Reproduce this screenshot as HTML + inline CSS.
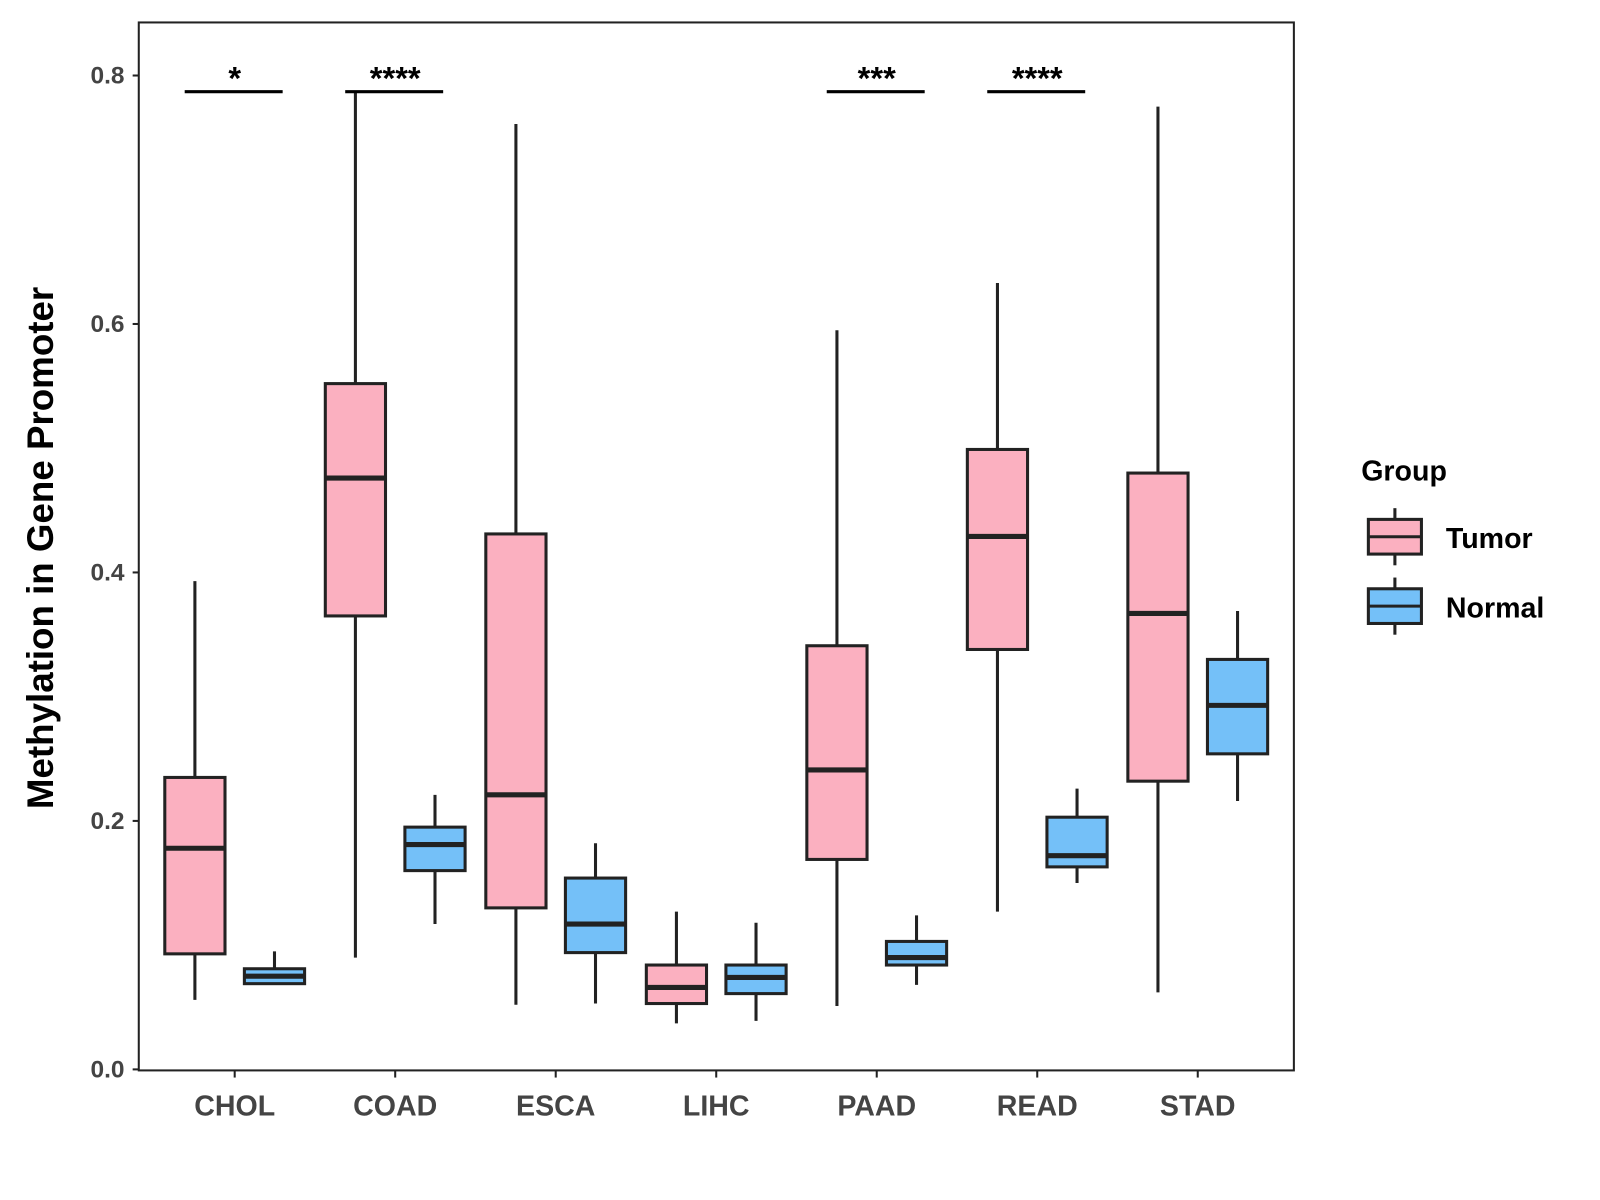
<!DOCTYPE html>
<html><head><meta charset="utf-8"><style>body{margin:0;background:#fff}svg{display:block;font-family:"Liberation Sans",Arial,sans-serif}</style></head>
<body>
<svg id="chart" width="1600" height="1200" viewBox="0 0 1568 1176">
<rect x="136" y="22" width="1132" height="1027" fill="#fff" stroke="#222" stroke-width="2"/>
<g id="marks"></g>
<text transform="translate(52,537) rotate(-90)" text-anchor="middle" font-size="36" font-weight="bold" fill="#000">Methylation in Gene Promoter</text>
<g>
<text x="1334" y="471" font-size="28" font-weight="bold">Group</text>
<g>
<line x1="1367" y1="498" x2="1367" y2="554" stroke="#222" stroke-width="3"/>
<rect x="1341" y="509" width="52" height="34" fill="#fbb0c0" stroke="#222" stroke-width="3"/>
<line x1="1341" y1="526" x2="1393" y2="526" stroke="#222" stroke-width="3"/>
<text x="1417" y="537" font-size="28" font-weight="bold">Tumor</text></g>
<g>
<line x1="1367" y1="566" x2="1367" y2="622" stroke="#222" stroke-width="3"/>
<rect x="1341" y="577" width="52" height="34" fill="#74c0f8" stroke="#222" stroke-width="3"/>
<line x1="1341" y1="594" x2="1393" y2="594" stroke="#222" stroke-width="3"/>
<text x="1417" y="605" font-size="28" font-weight="bold">Normal</text></g>
</g>
</svg>
<script>
const categories=["CHOL","COAD","ESCA","LIHC","PAAD","READ","STAD"];
// [low, q1, median, q3, high]
const tumorStats=[[0.056,0.093,0.178,0.235,0.393],[0.090,0.365,0.476,0.552,0.787],[0.052,0.130,0.221,0.431,0.761],[0.037,0.053,0.066,0.084,0.127],[0.051,0.169,0.241,0.341,0.595],[0.127,0.338,0.429,0.499,0.633],[0.062,0.232,0.367,0.480,0.775]];
const normalStats=[[0.069,0.069,0.075,0.081,0.095],[0.117,0.160,0.181,0.195,0.221],[0.053,0.094,0.117,0.154,0.182],[0.039,0.061,0.074,0.084,0.118],[0.068,0.084,0.090,0.103,0.124],[0.150,0.163,0.172,0.203,0.226],[0.216,0.254,0.293,0.330,0.369]];
const sigLabels=["*","****","","","***","****",""];
const sigLevel=0.787;
const yTicks=[0,0.2,0.4,0.6,0.8];
const tickLabels=["0.0","0.2","0.4","0.6","0.8"];
const NS="http://www.w3.org/2000/svg";
const g=document.getElementById('marks');
function y(v){return 1048-v*1217.5;}
function x(i){return 230+i*157.3;}
function mk(t,a,p){const e=document.createElementNS(NS,t);for(const k in a)e.setAttribute(k,a[k]);(p||g).appendChild(e);return e;}
yTicks.forEach((t,i)=>{
 const l=mk('line',{x1:130,x2:136,y1:y(t),y2:y(t),stroke:'#222','stroke-width':2});
 
 
 const tx=mk('text',{x:122,y:y(t)+8,'text-anchor':'end','font-size':24,'font-weight':'bold',fill:'#444'});
 tx.textContent=tickLabels[i];
 
 
});
categories.forEach((c,i)=>{
 const l=mk('line',{x1:x(i),x2:x(i),y1:1049,y2:1056,stroke:'#222','stroke-width':2});
 
 
 const tx=mk('text',{x:x(i),y:1093,'text-anchor':'middle','font-size':28,'font-weight':'bold',fill:'#444'});
 tx.textContent=c;
 
 
 [[tumorStats[i],-39,'#fbb0c0','tumor'],[normalStats[i],39,'#74c0f8','normal']].forEach(([s,off,col,nm])=>{
  const cx=x(i)+off,w=59;
  const bg=mk('g',{});
  
  
  mk('line',{x1:cx,x2:cx,y1:y(s[0]),y2:y(s[4]),stroke:'#222','stroke-width':3},bg);
  mk('rect',{x:cx-w/2,y:y(s[3]),width:w,height:y(s[1])-y(s[3]),fill:col,stroke:'#222','stroke-width':3},bg);
  mk('line',{x1:cx-w/2,x2:cx+w/2,y1:y(s[2]),y2:y(s[2]),stroke:'#222','stroke-width':5},bg);
 });
 if(sigLabels[i]){
  const sg=mk('g',{});
  
  
  mk('line',{x1:x(i)-49,x2:x(i)+47,y1:y(sigLevel),y2:y(sigLevel),stroke:'#000','stroke-width':3},sg);
  const t=mk('text',{x:x(i),y:y(sigLevel)-2,'text-anchor':'middle','font-size':32,'font-weight':'bold'},sg);
  t.textContent=sigLabels[i];
 }
});
</script>
</body></html>
